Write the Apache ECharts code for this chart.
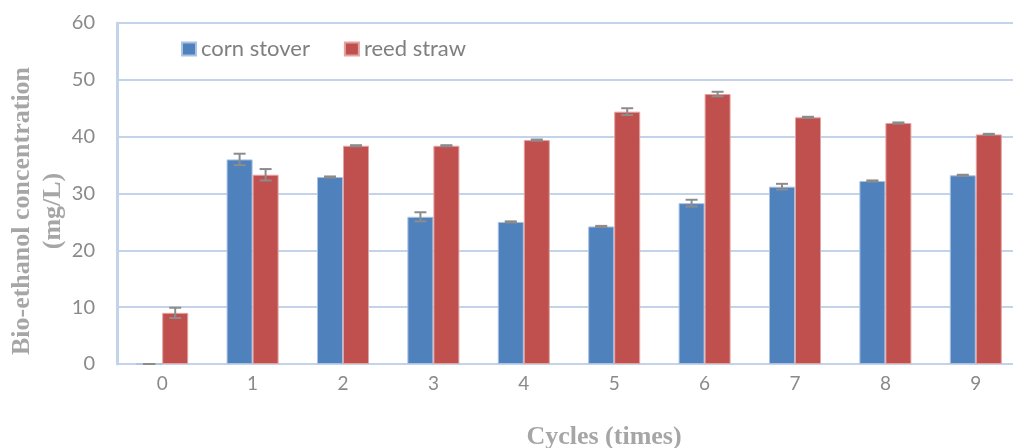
<!DOCTYPE html>
<html>
<head>
<meta charset="utf-8">
<script src="https://cdn.jsdelivr.net/npm/echarts@6/dist/echarts.min.js"></script>
<style>
html,body{margin:0;padding:0;background:#fff;overflow:hidden;}
#chart{width:1021px;height:448px;}
</style>
</head>
<body>
<div id="chart"></div>
<script>
const categories = ['0','1','2','3','4','5','6','7','8','9'];
const cornStover = [0, 36.0, 32.9, 25.9, 25.0, 24.2, 28.3, 31.2, 32.2, 33.2];
const cornStoverErr = [0, 1.0, 0.1, 0.8, 0.1, 0.1, 0.6, 0.5, 0.1, 0.1];
const reedStraw = [9.0, 33.3, 38.4, 38.4, 39.4, 44.4, 47.5, 43.4, 42.4, 40.4];
const reedStrawErr = [0.9, 1.0, 0.1, 0.1, 0.1, 0.6, 0.4, 0.1, 0.1, 0.1];
const yTicks = {min: 0, max: 60, interval: 10};

const BAR_W = 26;
const ERR_COLOR = '#8c8c8c';
const LABEL_COLOR = '#8a8a8a';
const GRID_COLOR = '#c3d4ea';

function errData(vals, errs) {
  return vals.map((v, i) => [i, v - errs[i], v + errs[i]]);
}
function errSeries(vals, errs, offset) {
  return {
    type: 'custom',
    silent: true,
    z: 5,
    encode: {x: 0, y: [1, 2]},
    data: errData(vals, errs),
    renderItem: function (params, api) {
      const c = api.value(0);
      const lo = api.coord([c, api.value(1)]);
      const hi = api.coord([c, api.value(2)]);
      const x = lo[0] + offset;
      const half = 6;
      const style = {stroke: ERR_COLOR, lineWidth: 2};
      return {
        type: 'group',
        children: [
          {type: 'line', shape: {x1: x, y1: lo[1], x2: x, y2: hi[1]}, style: style},
          {type: 'line', shape: {x1: x - half, y1: lo[1], x2: x + half, y2: lo[1]}, style: style},
          {type: 'line', shape: {x1: x - half, y1: hi[1], x2: x + half, y2: hi[1]}, style: style}
        ]
      };
    }
  };
}

const chart = echarts.init(document.getElementById('chart'), null, {renderer: 'canvas'});
chart.setOption({
  animation: false,
  grid: {left: 117, right: 0, top: 23, bottom: 84, containLabel: false},
  legend: {
    left: 176, top: 33,
    icon: 'rect', itemWidth: 14, itemHeight: 13, itemGap: 34,
    textStyle: {fontFamily: 'Lato', fontSize: 22, color: '#7f7f7f'},
    data: ['corn stover', 'reed straw']
  },
  xAxis: {
    type: 'category',
    data: categories,
    axisLine: {lineStyle: {color: GRID_COLOR, width: 2}},
    axisTick: {show: false},
    axisLabel: {color: LABEL_COLOR, fontFamily: 'Lato', fontSize: 19, margin: 10}
  },
  yAxis: {
    type: 'value',
    min: yTicks.min, max: yTicks.max, interval: yTicks.interval,
    axisLine: {show: true, lineStyle: {color: GRID_COLOR, width: 3}},
    axisTick: {show: false},
    splitLine: {lineStyle: {color: GRID_COLOR, width: 2}},
    axisLabel: {color: LABEL_COLOR, fontFamily: 'Lato', fontSize: 20, margin: 22}
  },
  graphic: [
    {
      type: 'text', x: 38, y: 211, rotation: Math.PI / 2,
      style: {
        text: 'Bio-ethanol concentration\n(mg/L)',
        font: 'bold 26px "Liberation Serif"',
        fill: '#a6a6a6', align: 'center', verticalAlign: 'middle', lineHeight: 31
      }
    },
    {
      type: 'text', x: 604, y: 437,
      style: {
        text: 'Cycles (times)',
        font: 'bold 26px "Liberation Serif"',
        fill: '#a6a6a6', align: 'center', verticalAlign: 'middle'
      }
    }
  ],
  series: [
    {
      name: 'corn stover', type: 'bar', data: cornStover,
      barWidth: BAR_W, barGap: '0%',
      itemStyle: {color: '#4f81bd', borderColor: '#a9c1e2', borderWidth: 1}
    },
    {
      name: 'reed straw', type: 'bar', data: reedStraw,
      barWidth: BAR_W, barGap: '0%',
      itemStyle: {color: '#c0504d', borderColor: '#e4a3a1', borderWidth: 1}
    },
    errSeries(cornStover, cornStoverErr, -BAR_W / 2),
    errSeries(reedStraw, reedStrawErr, BAR_W / 2)
  ]
});
</script>
</body>
</html>
